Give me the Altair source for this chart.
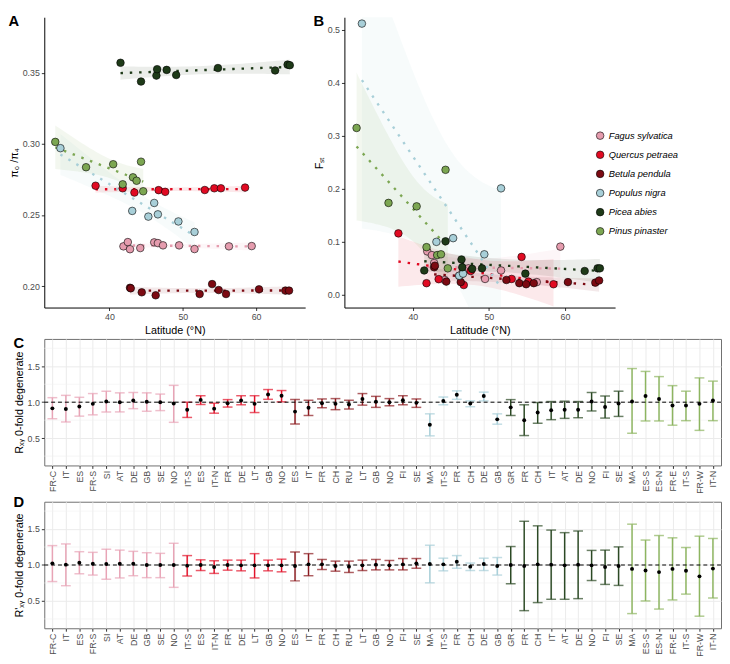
import altair as alt
import numpy as np
import pandas as pd

species = ["Fagus sylvatica", "Quercus petraea", "Betula pendula",
           "Populus nigra", "Picea abies", "Pinus pinaster"]
point_colors = ["#E59CAE", "#E10A22", "#7C0A12", "#A8CFD8", "#1E3A18", "#7CA652"]
bar_colors = ["#E8A4B6", "#E2142B", "#8B1B20", "#A8CFD8", "#2C4A25", "#8DB560"]

# ---- Panels A/B: latitude, pi0/pi4 and FST per population ----
fagus_lat = [41.9, 42.5, 42.8, 44.2, 46.1, 46.6, 47.3, 49.5, 51.6, 56.3, 59.4]
fagus_pi = [0.228, 0.231, 0.226, 0.2268, 0.2308, 0.2303, 0.2287, 0.2287, 0.2261, 0.228, 0.2282]
fagus_fst = [0.082, 0.075, 0.060, 0.028, 0.036, 0.045, 0.050, 0.030, 0.046, 0.024, 0.091]

quercus_lat = [38.1, 41.8, 43.4, 46.7, 47.6, 53.0, 54.3, 55.2, 58.5]
quercus_pi = [0.2706, 0.2688, 0.2658, 0.2675, 0.2663, 0.2676, 0.2688, 0.2688, 0.2693]
quercus_fst = [0.116, 0.022, 0.0296, 0.0185, 0.045, 0.030, 0.0716, 0.025, 0.020]

betula_lat = [42.8, 42.9, 44.4, 46.3, 52.3, 54.0, 54.9, 55.9, 60.4, 64.0, 64.5]
betula_pi = [0.1989, 0.1985, 0.1957, 0.1936, 0.1945, 0.2015, 0.1973, 0.1945, 0.1978, 0.1969, 0.1969]
betula_fst = [0.052, 0.055, 0.025, 0.024, 0.028, 0.022, 0.020, 0.022, 0.024, 0.023, 0.027]

populus_lat = [33.3, 43.1, 45.3, 46.1, 46.6, 49.4, 51.6]
populus_pi = [0.297, 0.2529, 0.2489, 0.2585, 0.2505, 0.2455, 0.2381]
populus_fst = [0.512, 0.100, 0.107, 0.036, 0.040, 0.0765, 0.201]

picea_lat = [41.5, 44.3, 46.4, 46.5, 47.8, 49.1, 54.8, 62.6, 64.3, 64.6]
picea_pi = [0.357, 0.3438, 0.348, 0.3525, 0.352, 0.3484, 0.3533, 0.3516, 0.3557, 0.3553]
picea_fst = [0.046, 0.101, 0.0667, 0.052, 0.049, 0.050, 0.040, 0.045, 0.050, 0.050]

pinus_lat = [32.6, 36.8, 40.5, 44.3, 43.2, 43.7, 41.8, 44.6]
pinus_pi = [0.3014, 0.2836, 0.2857, 0.2875, 0.2765, 0.2741, 0.2716, 0.2667]
pinus_fst = [0.315, 0.1735, 0.167, 0.236, 0.075, 0.0765, 0.090, 0.050]

# ---- Panels C/D: populations and ratio estimates ----
fagus_pops = ["FR-C", "IT", "ES", "FR-S", "SI", "AT", "DE", "GB", "SE", "NO"]
quercus_pops = ["IT-S", "ES", "IT-N", "FR", "DE", "LT", "GB", "NO"]
betula_pops = ["ES", "IT", "FR", "CH", "RU", "LT", "GB", "NO", "FI", "SE"]
populus_pops = ["MA", "IT-S", "FR", "CH", "DE", "GB"]
picea_pops = ["GR", "FR", "CH", "IT", "AT", "DE", "NO", "FI", "SE"]
pinus_pops = ["MA", "ES-S", "ES-N", "FR-E", "IT-S", "FR-W", "IT-N"]

rxy_mid = [0.914, 0.905, 0.941, 0.977, 1.009, 1.0, 1.023, 1.005, 1.0, 0.982,
           0.896, 1.032, 0.91, 0.986, 1.023, 0.977, 1.108, 1.09,
           0.869, 0.923, 0.986, 0.977, 0.968, 1.045, 1.005, 1.0, 1.027, 0.991,
           0.685, 1.018, 1.104, 0.982, 1.086, 0.761,
           0.928, 0.748, 0.856, 0.887, 0.896, 0.896, 1.009, 0.932, 0.982,
           1.009, 1.086, 1.045, 0.955, 0.955, 0.977, 1.023]
rxy_lo = [0.77, 0.725, 0.806, 0.824, 0.865, 0.865, 0.91, 0.874, 0.883, 0.72,
          0.788, 0.968, 0.847, 0.932, 0.964, 0.856, 1.04, 1.005,
          0.698, 0.815, 0.923, 0.896, 0.905, 0.959, 0.928, 0.95, 0.964, 0.928,
          0.532, 0.964, 1.04, 0.937, 1.018, 0.694,
          0.815, 0.536, 0.707, 0.757, 0.775, 0.784, 0.878, 0.779, 0.802,
          0.568, 0.739, 0.739, 0.68, 0.743, 0.608, 0.743]
rxy_hi = [1.063, 1.095, 1.068, 1.12, 1.153, 1.13, 1.135, 1.13, 1.113, 1.234,
          1.0, 1.09, 0.986, 1.036, 1.09, 1.09, 1.176, 1.162,
          1.036, 1.027, 1.045, 1.05, 1.027, 1.12, 1.081, 1.05, 1.09, 1.045,
          0.838, 1.072, 1.158, 1.018, 1.14, 0.838,
          1.036, 0.964, 0.995, 1.009, 1.014, 1.009, 1.135, 1.086, 1.153,
          1.468, 1.428, 1.356, 1.23, 1.153, 1.338, 1.293]

rpxy_mid = [1.023, 1.005, 1.032, 1.018, 1.014, 1.018, 1.018, 1.0, 1.0, 1.0,
            0.991, 1.0, 0.973, 1.0, 0.995, 0.995, 0.995, 0.995,
            0.986, 1.009, 1.009, 0.986, 0.977, 0.995, 1.005, 0.995, 1.009, 1.023,
            1.014, 1.009, 1.045, 0.977, 1.014, 0.986,
            1.0, 0.986, 1.009, 1.005, 0.995, 1.005, 0.995, 0.973, 0.986,
            0.946, 0.923, 0.901, 0.946, 0.919, 0.842, 0.95]
rpxy_lo = [0.77, 0.712, 0.878, 0.86, 0.802, 0.82, 0.851, 0.824, 0.824, 0.689,
           0.847, 0.923, 0.883, 0.928, 0.919, 0.82, 0.919, 0.905,
           0.779, 0.851, 0.937, 0.914, 0.896, 0.923, 0.932, 0.932, 0.932, 0.955,
           0.752, 0.919, 0.955, 0.923, 0.923, 0.86,
           0.739, 0.365, 0.477, 0.523, 0.523, 0.532, 0.784, 0.73, 0.716,
           0.324, 0.5, 0.387, 0.514, 0.595, 0.288, 0.541]
rpxy_hi = [1.27, 1.293, 1.185, 1.176, 1.22, 1.207, 1.19, 1.171, 1.162, 1.302,
           1.131, 1.072, 1.059, 1.068, 1.068, 1.158, 1.068, 1.081,
           1.18, 1.158, 1.077, 1.054, 1.054, 1.068, 1.077, 1.063, 1.09, 1.09,
           1.275, 1.095, 1.131, 1.027, 1.095, 1.104,
           1.257, 1.608, 1.545, 1.486, 1.45, 1.473, 1.203, 1.207, 1.252,
           1.568, 1.347, 1.41, 1.378, 1.243, 1.401, 1.369]

minor_grid = [0.25, 0.75, 1.25, 1.75]

# ---------------------------------------------------------------
T975 = {3: 3.182, 4: 2.776, 5: 2.571, 6: 2.447, 7: 2.365, 8: 2.306,
        9: 2.262, 10: 2.228, 11: 2.201, 12: 2.179}

lats = [fagus_lat, quercus_lat, betula_lat, populus_lat, picea_lat, pinus_lat]
pis = [fagus_pi, quercus_pi, betula_pi, populus_pi, picea_pi, pinus_pi]
fsts = [fagus_fst, quercus_fst, betula_fst, populus_fst, picea_fst, pinus_fst]
pops = [fagus_pops, quercus_pops, betula_pops, populus_pops, picea_pops, pinus_pops]

pts_rows = []
for sp, c, la, pi, fs in zip(species, point_colors, lats, pis, fsts):
    for a, b, f in zip(la, pi, fs):
        pts_rows.append({"species": sp, "col": c, "lat": a, "pi": b, "fst": f})
pts = pd.DataFrame(pts_rows)


def fit_rows(var):
    rows = []
    for sp, c, la, vals in zip(species, point_colors, lats, var):
        x = np.array(la, float)
        y = np.array(vals, float)
        n = len(x)
        b1, b0 = np.polyfit(x, y, 1)
        g = np.linspace(x.min(), x.max(), 40)
        yh = b0 + b1 * g
        res = y - (b0 + b1 * x)
        s = np.sqrt(np.sum(res ** 2) / (n - 2))
        sxx = np.sum((x - x.mean()) ** 2)
        se = s * np.sqrt(1.0 / n + (g - x.mean()) ** 2 / sxx)
        t = T975[n - 2]
        for gi, yi, si in zip(g, yh, se):
            rows.append({"species": sp, "col": c, "lat": gi, "fit": yi,
                         "lo": yi - t * si, "hi": yi + t * si})
    return pd.DataFrame(rows)


fitA = fit_rows(pis)
fitB = fit_rows(fsts)

col_scale = alt.Scale(domain=species, range=point_colors)
FONT = "Liberation Sans"


def letter_title(letter, offset):
    return alt.TitleParams(letter, anchor="start", frame="bounds", fontSize=15,
                           fontWeight="bold", offset=offset, font=FONT)


def scatter_panel(fit_df, yfield, ydom, yvals, yfmt, ytitle, xdom, w, h, letter, legend):
    xs = alt.Scale(domain=xdom, nice=False, zero=False)
    ys = alt.Scale(domain=ydom, nice=False, zero=False)
    xax = alt.Axis(values=[40, 50, 60], title="Latitude (°N)", grid=False,
                   domainColor="black", tickColor="#333333", tickSize=3,
                   labelPadding=2, titlePadding=3)
    yax = alt.Axis(values=yvals, format=yfmt, title=ytitle, grid=False,
                   domainColor="black", tickColor="#333333", tickSize=3,
                   labelPadding=2, titlePadding=3)
    band = alt.Chart(fit_df).mark_area(opacity=0.09, clip=True).encode(
        x=alt.X("lat:Q", scale=xs, axis=xax),
        y=alt.Y("lo:Q", scale=ys, axis=yax),
        y2="hi:Q",
        fill=alt.Fill("col:N", scale=None),
        detail="species:N",
    )
    line = alt.Chart(fit_df).mark_line(strokeDash=[2.5, 7], strokeWidth=2.4, clip=True).encode(
        x="lat:Q", y="fit:Q",
        stroke=alt.Stroke("col:N", scale=None),
        detail="species:N",
    )
    if legend:
        color = alt.Color(
            "species:N", scale=col_scale, sort=species,
            legend=alt.Legend(title=None, orient="none", legendX=256, legendY=116,
                              symbolType="circle", symbolSize=60,
                              symbolStrokeColor="black", symbolStrokeWidth=0.6,
                              labelFontStyle="italic", labelFontSize=9.5,
                              labelColor="black", rowPadding=8.5, labelFont=FONT))
    else:
        color = alt.Color("col:N", scale=None)
    points = alt.Chart(pts).mark_circle(size=60, opacity=1, stroke="black",
                                        strokeWidth=0.6).encode(
        x="lat:Q", y=f"{yfield}:Q", color=color,
    )
    return alt.layer(band, line, points).properties(
        width=w, height=h, title=letter_title(letter, -12))


panelA = scatter_panel(fitA, "pi", [0.185, 0.389], [0.20, 0.25, 0.30, 0.35], ".2f",
                       "π₀ /π₄", [31.1, 66.7], 266, 296, "A", False)
panelB = scatter_panel(fitB, "fst", [-0.024, 0.524], [0.0, 0.1, 0.2, 0.3, 0.4, 0.5], ".1f",
                       "Fₛₜ", [31.0, 66.6], 276, 296, "B", True)

top = alt.hconcat(panelA, panelB, spacing=8).resolve_scale(color="independent")

# ---- C / D ----
keys = []
sp_col = []
bar_col = []
for i, (sp, c, pl) in enumerate(zip(species, bar_colors, pops)):
    for p in pl:
        keys.append(f"{len(keys):02d}|{p}")
        sp_col.append(sp)
        bar_col.append(c)


def ratio_panel(mid, lo, hi, ytitle, letter, toff):
    df = pd.DataFrame({"key": keys, "species": sp_col, "col": bar_col,
                       "mid": mid, "lo": lo, "hi": hi})
    xs = alt.Scale(type="point", padding=0.6)
    ys = alt.Scale(domain=[0.12, 1.88], nice=False, zero=False)
    xax = alt.Axis(title=None, labelExpr="split(datum.label, '|')[1]", labelAngle=-90,
                   labelAlign="right", labelBaseline="middle", grid=True,
                   gridColor="#EBEBEB", gridWidth=1, domain=False,
                   tickColor="#333333", tickSize=3, labelPadding=2)
    yax = alt.Axis(values=[0.5, 1.0, 1.5], format=".1f", title=ytitle, grid=True,
                   gridColor="#EBEBEB", gridWidth=1, domain=False,
                   tickColor="#333333", tickSize=3, labelPadding=2, titlePadding=3)
    minor = alt.Chart(pd.DataFrame({"g": minor_grid})).mark_rule(
        color="#EFEFEF", strokeWidth=0.6).encode(y=alt.Y("g:Q", scale=ys, axis=yax))
    base = alt.Chart(df).encode(
        x=alt.X("key:N", sort=keys, scale=xs, axis=xax))
    ref = alt.Chart(pd.DataFrame({"r": [1.0]})).mark_rule(
        color="black", strokeDash=[4, 3], strokeWidth=1).encode(y="r:Q")
    err = base.mark_rule(strokeWidth=1.5).encode(
        y=alt.Y("lo:Q", scale=ys), y2="hi:Q",
        color=alt.Color("col:N", scale=None))
    cap_lo = base.mark_tick(thickness=1.5, size=10).encode(
        y="lo:Q", color=alt.Color("col:N", scale=None))
    cap_hi = base.mark_tick(thickness=1.5, size=10).encode(
        y="hi:Q", color=alt.Color("col:N", scale=None))
    dots = base.mark_circle(size=16, color="black", opacity=1).encode(y="mid:Q")
    return alt.layer(minor, err, cap_lo, cap_hi, ref, dots).properties(
        width=690, height=129,
        view=alt.ViewBackground(stroke="#6E6E6E", strokeWidth=1),
        title=letter_title(letter, toff))


panelC = ratio_panel(rxy_mid, rxy_lo, rxy_hi, "Rₓᵧ 0-fold degenerate", "C", -12)
panelD = ratio_panel(rpxy_mid, rpxy_lo, rpxy_hi, "R'ₓᵧ 0-fold degenerate", "D", -8)

chart = alt.vconcat(top, panelC, panelD, spacing=0, padding=0).resolve_scale(
    color="independent"
).configure(font=FONT).configure_view(stroke=None).configure_axis(
    labelFont=FONT, titleFont=FONT, labelColor="#4D4D4D", labelFontSize=9,
    titleFontSize=11, titleFontWeight="normal", titleColor="black"
)

chart.save("out.html", embed_options={"renderer": "svg", "actions": False})
